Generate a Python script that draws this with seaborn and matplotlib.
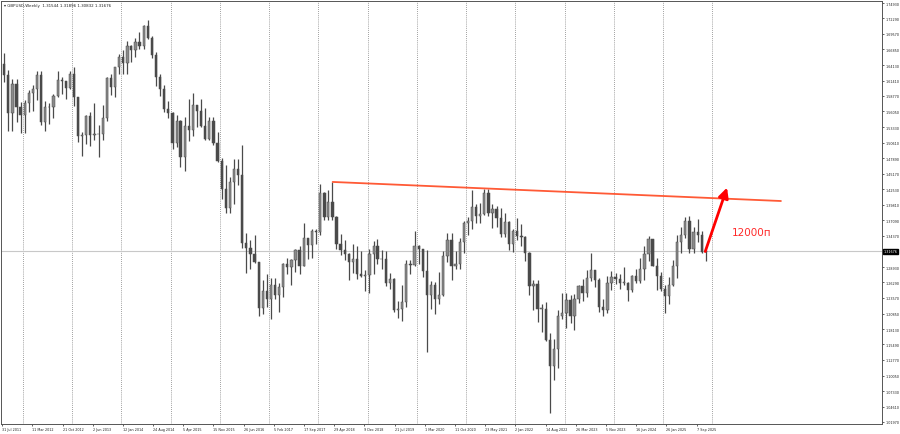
import pandas as pd
import numpy as np
import matplotlib
matplotlib.use("Agg")
import matplotlib.pyplot as plt
import matplotlib.dates as mdates
import matplotlib.transforms as mtransforms
import seaborn as sns

# monthly GBPUSD candles, Aug 2011 .. Nov 2025
start_month = "2011-08-01"
opens = [
    1.6430, 1.6243, 1.5585, 1.6078, 1.5690,
    1.5540, 1.5750, 1.5920, 1.5990, 1.6240, 1.5420, 1.5690, 1.5680, 1.5880, 1.6160, 1.6130, 1.6020,
    1.6250, 1.5860, 1.5170, 1.5190, 1.5530, 1.5190, 1.5210, 1.5210, 1.5490, 1.6190, 1.6030, 1.6370,
    1.6560, 1.6440, 1.6750, 1.6670, 1.6820, 1.6750, 1.7100, 1.6880, 1.6590, 1.6210, 1.5990, 1.5640,
    1.5580, 1.5060, 1.5440, 1.4820, 1.5350, 1.5280, 1.5710, 1.5610, 1.5350, 1.5130, 1.5430, 1.5050,
    1.4740, 1.4250, 1.3920, 1.4370, 1.4610, 1.4490, 1.3310, 1.3230, 1.3130, 1.2980, 1.2180, 1.2470,
    1.2340, 1.2580, 1.2410, 1.2550, 1.2950, 1.2890, 1.3020, 1.3200, 1.2920, 1.3395, 1.3285, 1.3525,
    1.3510, 1.4190, 1.3770, 1.4025, 1.3770, 1.3295, 1.3200, 1.3125, 1.2990, 1.3040, 1.2770, 1.2745,
    1.2755, 1.3115, 1.3260, 1.3030, 1.3035, 1.2625, 1.2695, 1.2150, 1.2160, 1.2290, 1.2945, 1.2930,
    1.3260, 1.3205, 1.2820, 1.2410, 1.2590, 1.2345, 1.2400, 1.3090, 1.3370, 1.2920, 1.2945, 1.3330,
    1.3670, 1.3705, 1.3935, 1.3785, 1.3820, 1.4180, 1.3830, 1.3900, 1.3750, 1.3475, 1.3680, 1.3300,
    1.3530, 1.3440, 1.3410, 1.3140, 1.2570, 1.2600, 1.2170, 1.2170, 1.1620, 1.1165, 1.1470, 1.2050,
    1.2100, 1.2320, 1.2050, 1.2340, 1.2570, 1.2440, 1.2700, 1.2840, 1.2670, 1.2200, 1.2150, 1.2620,
    1.2730, 1.2690, 1.2620, 1.2620, 1.2490, 1.2740, 1.2645, 1.2855, 1.3125, 1.3375, 1.2910, 1.2735,
    1.2515, 1.2390, 1.2575, 1.2915, 1.3330, 1.3460, 1.3705, 1.3210, 1.3500, 1.3445, 1.3150,
]
highs = [
    1.6617, 1.6332, 1.6166, 1.6166, 1.5777,
    1.5800, 1.5975, 1.6062, 1.6301, 1.6308, 1.5780, 1.5750, 1.5900, 1.6309, 1.6200, 1.6130, 1.6309,
    1.6381, 1.5860, 1.5250, 1.5540, 1.5600, 1.5752, 1.5360, 1.5716, 1.6200, 1.6260, 1.6380, 1.6604,
    1.6668, 1.6823, 1.6770, 1.6880, 1.6996, 1.7110, 1.7190, 1.6920, 1.6640, 1.6250, 1.6060, 1.5790,
    1.5590, 1.5550, 1.5450, 1.5500, 1.5815, 1.5930, 1.5720, 1.5820, 1.5660, 1.5510, 1.5510, 1.5240,
    1.4800, 1.4670, 1.4460, 1.4770, 1.4770, 1.5018, 1.3480, 1.3370, 1.3445, 1.2990, 1.2675, 1.2775,
    1.2706, 1.2706, 1.2615, 1.2960, 1.3048, 1.3030, 1.3210, 1.3270, 1.3657, 1.3395, 1.3550, 1.3550,
    1.4345, 1.4210, 1.4245, 1.4377, 1.3790, 1.3475, 1.3365, 1.3140, 1.3298, 1.3257, 1.3175, 1.2840,
    1.3215, 1.3350, 1.3380, 1.3195, 1.3176, 1.2785, 1.2710, 1.2310, 1.2580, 1.3013, 1.3015, 1.3515,
    1.3285, 1.3210, 1.3200, 1.2648, 1.2640, 1.2813, 1.3170, 1.3483, 1.3482, 1.3177, 1.3398, 1.3705,
    1.3760, 1.4240, 1.4000, 1.4010, 1.4250, 1.4250, 1.3985, 1.3960, 1.3915, 1.3835, 1.3700, 1.3550,
    1.3750, 1.3645, 1.3440, 1.3165, 1.2665, 1.2665, 1.2245, 1.2295, 1.1740, 1.1645, 1.2155, 1.2445,
    1.2447, 1.2400, 1.2425, 1.2585, 1.2680, 1.2848, 1.3142, 1.2850, 1.2700, 1.2340, 1.2733, 1.2828,
    1.2785, 1.2773, 1.2894, 1.2635, 1.2760, 1.2860, 1.3045, 1.3265, 1.3435, 1.3390, 1.3048, 1.2810,
    1.2575, 1.2715, 1.3015, 1.3445, 1.3593, 1.3770, 1.3790, 1.3595, 1.3725, 1.3530, 1.3190,
]
lows = [
    1.6111, 1.5272, 1.5270, 1.5421, 1.5234,
    1.5234, 1.5600, 1.5604, 1.5805, 1.5369, 1.5270, 1.5393, 1.5489, 1.5850, 1.5910, 1.5830, 1.6000,
    1.5701, 1.5080, 1.4831, 1.5030, 1.5010, 1.5110, 1.4813, 1.5100, 1.5430, 1.5895, 1.5855, 1.6250,
    1.6250, 1.6250, 1.6460, 1.6550, 1.6690, 1.6690, 1.6860, 1.6530, 1.6050, 1.5874, 1.5590, 1.5485,
    1.4952, 1.4990, 1.4633, 1.4565, 1.5090, 1.5170, 1.5330, 1.5330, 1.5110, 1.5110, 1.5025, 1.4730,
    1.4080, 1.3840, 1.3836, 1.4000, 1.4330, 1.3229, 1.2798, 1.2866, 1.2960, 1.2050, 1.2080, 1.2200,
    1.1986, 1.2345, 1.2110, 1.2365, 1.2770, 1.2590, 1.2810, 1.2774, 1.2910, 1.3027, 1.3060, 1.3300,
    1.3450, 1.3710, 1.3710, 1.3710, 1.3205, 1.3100, 1.3010, 1.2663, 1.2785, 1.2695, 1.2723, 1.2475,
    1.2435, 1.2773, 1.2945, 1.2865, 1.2560, 1.2505, 1.2120, 1.2015, 1.1958, 1.2195, 1.2770, 1.2905,
    1.2955, 1.2725, 1.1409, 1.2165, 1.2075, 1.2252, 1.2390, 1.2980, 1.2676, 1.2855, 1.2855, 1.3135,
    1.3450, 1.3565, 1.3670, 1.3670, 1.3800, 1.3785, 1.3570, 1.3600, 1.3410, 1.3410, 1.3195, 1.3160,
    1.3360, 1.3270, 1.3000, 1.2410, 1.2155, 1.1935, 1.1760, 1.1600, 1.0350, 1.0925, 1.1145, 1.1990,
    1.1840, 1.1915, 1.1802, 1.2275, 1.2308, 1.2370, 1.2660, 1.2550, 1.2110, 1.2037, 1.2095, 1.2500,
    1.2595, 1.2518, 1.2575, 1.2300, 1.2465, 1.2615, 1.2615, 1.2665, 1.3000, 1.2905, 1.2487, 1.2475,
    1.2100, 1.2250, 1.2570, 1.2708, 1.3140, 1.3400, 1.3140, 1.3140, 1.3325, 1.3145, 1.3008,
]
closes = [
    1.6243, 1.5585, 1.6078, 1.5690, 1.5540,
    1.5750, 1.5920, 1.5990, 1.6240, 1.5420, 1.5690, 1.5680, 1.5880, 1.6160, 1.6130, 1.6020, 1.6250,
    1.5860, 1.5170, 1.5190, 1.5530, 1.5190, 1.5210, 1.5210, 1.5490, 1.6190, 1.6030, 1.6370, 1.6560,
    1.6440, 1.6750, 1.6670, 1.6820, 1.6750, 1.7100, 1.6880, 1.6590, 1.6210, 1.5990, 1.5640, 1.5580,
    1.5060, 1.5440, 1.4820, 1.5350, 1.5280, 1.5710, 1.5610, 1.5350, 1.5130, 1.5430, 1.5050, 1.4740,
    1.4250, 1.3920, 1.4370, 1.4610, 1.4490, 1.3310, 1.3230, 1.3130, 1.2980, 1.2180, 1.2470, 1.2340,
    1.2580, 1.2410, 1.2550, 1.2950, 1.2890, 1.3020, 1.3200, 1.2920, 1.3395, 1.3285, 1.3525, 1.3510,
    1.4190, 1.3770, 1.4025, 1.3770, 1.3295, 1.3200, 1.3125, 1.2990, 1.3040, 1.2770, 1.2745, 1.2755,
    1.3115, 1.3260, 1.3030, 1.3035, 1.2625, 1.2695, 1.2150, 1.2160, 1.2290, 1.2945, 1.2930, 1.3260,
    1.3205, 1.2820, 1.2410, 1.2590, 1.2345, 1.2400, 1.3090, 1.3370, 1.2920, 1.2945, 1.3330, 1.3670,
    1.3705, 1.3935, 1.3785, 1.3820, 1.4180, 1.3830, 1.3900, 1.3750, 1.3475, 1.3680, 1.3300, 1.3530,
    1.3440, 1.3410, 1.3140, 1.2570, 1.2600, 1.2170, 1.2170, 1.1620, 1.1165, 1.1470, 1.2050, 1.2100,
    1.2320, 1.2050, 1.2340, 1.2570, 1.2440, 1.2700, 1.2840, 1.2670, 1.2200, 1.2150, 1.2620, 1.2730,
    1.2690, 1.2620, 1.2620, 1.2490, 1.2740, 1.2645, 1.2855, 1.3125, 1.3375, 1.2910, 1.2735, 1.2515,
    1.2390, 1.2575, 1.2915, 1.3330, 1.3460, 1.3705, 1.3210, 1.3500, 1.3445, 1.3150, 1.3168,
]

# price axis labels and date labels as shown by the terminal
price_ticks = [1.74930, 1.72290, 1.69570, 1.66850, 1.64130, 1.61410, 1.58770, 1.56050,
               1.53330, 1.50610, 1.47890, 1.45170, 1.42530, 1.39810, 1.37090, 1.34370,
               1.28930, 1.26290, 1.23570, 1.20850, 1.18130, 1.15490, 1.12770, 1.10050,
               1.07330, 1.04610, 1.01970]
date_ticks = ["2011-07-31", "2012-03-11", "2012-10-21", "2013-06-02", "2014-01-12",
              "2014-08-24", "2015-04-05", "2015-11-15", "2016-06-26", "2017-02-05",
              "2017-09-17", "2018-04-29", "2018-12-09", "2019-07-21", "2020-03-01",
              "2020-10-11", "2021-05-23", "2022-01-02", "2022-08-14", "2023-03-26",
              "2023-11-05", "2024-06-16", "2025-01-26", "2025-09-07"]
date_labels = ["31 Jul 2011", "11 Mar 2012", "21 Oct 2012", "2 Jun 2013", "12 Jan 2014",
               "24 Aug 2014", "5 Apr 2015", "15 Nov 2015", "26 Jun 2016", "5 Feb 2017",
               "17 Sep 2017", "29 Apr 2018", "9 Dec 2018", "21 Jul 2019", "1 Mar 2020",
               "11 Oct 2020", "23 May 2021", "2 Jan 2022", "14 Aug 2022", "26 Mar 2023",
               "5 Nov 2023", "16 Jun 2024", "26 Jan 2025", "7 Sep 2025"]
last_price = 1.31676
header = "GBPUSD,Weekly  1.31544 1.31896 1.30832 1.31676"

# resistance line and projected move
trend_dates = ["2018-04-17", "2027-05-25"]
trend_prices = [1.4377, 1.4045]
arrow_from = ("2025-11-03", 1.3120)
arrow_to = ("2026-04-27", 1.4324)
move_text = "12000п"

sns.set_style("white")
plt.rcParams["font.family"] = ["DejaVu Sans"]

df = pd.DataFrame({"open": opens, "high": highs, "low": lows, "close": closes})
df["date"] = pd.date_range(start_month, periods=len(df), freq="MS") + pd.Timedelta(days=14)
df["x"] = mdates.date2num(df["date"])
up = df["close"] >= df["open"]

fig = plt.figure(figsize=(9, 4.35), dpi=100)
ax = fig.add_axes([0.001, 1 - 425 / 435, 881 / 900, 423 / 435])

# yearly dotted separators
for yr in range(2012, 2027):
    ax.axvline(mdates.date2num(pd.Timestamp(f"{yr}-01-01")), color="#808080",
               lw=0.6, ls=(0, (1, 1.5)), zorder=0)

ax.axhline(last_price, color="#c8c8c8", lw=0.8, zorder=1)

ax.vlines(df["x"], df["low"], df["high"], color="#4a4a4a", lw=0.9, zorder=2)
body_w = 17
ax.bar(df.loc[up, "x"], (df.loc[up, "close"] - df.loc[up, "open"]).clip(lower=0.0008),
       bottom=df.loc[up, "open"], width=body_w, color="#8a8a8a", edgecolor="#4a4a4a",
       linewidth=0.35, zorder=3)
ax.bar(df.loc[~up, "x"], (df.loc[~up, "open"] - df.loc[~up, "close"]).clip(lower=0.0008),
       bottom=df.loc[~up, "close"], width=body_w, color="#4a4a4a", edgecolor="#4a4a4a",
       linewidth=0.35, zorder=3)

trend = pd.DataFrame({"x": mdates.date2num(pd.to_datetime(trend_dates)), "y": trend_prices})
sns.lineplot(data=trend, x="x", y="y", ax=ax, color="#ff5a36", lw=1.3, zorder=4)

ax.annotate("", xy=(mdates.date2num(pd.Timestamp(arrow_to[0])), arrow_to[1]),
            xytext=(mdates.date2num(pd.Timestamp(arrow_from[0])), arrow_from[1]),
            arrowprops=dict(arrowstyle="-|>,head_length=0.6,head_width=0.3",
                            color="#ff0000", lw=2.0), zorder=5)
ax.text(mdates.date2num(pd.Timestamp("2026-05-24")), 1.3505, move_text,
        color="#ff2a2a", fontsize=7.5, va="center", ha="left")

# axes limits that match the terminal window
x0 = mdates.date2num(pd.Timestamp("2011-07-22"))
ax.set_xlim(x0, x0 + 6535)
ax.set_ylim(1.0162, 1.7528)

ax.yaxis.tick_right()
ax.set_yticks(price_ticks)
ax.set_yticklabels([f"{p:.5f}" for p in price_ticks])
ax.set_xticks(mdates.date2num(pd.to_datetime(date_ticks)))
ax.set_xticklabels(date_labels, ha="left")
ax.tick_params(axis="both", labelsize=2.4, length=1.5, width=0.5, pad=0.8,
               colors="#222222", right=True, bottom=True, left=False)
ax.set_xlabel("")
ax.set_ylabel("")
for s in ax.spines.values():
    s.set_color("#555555")
    s.set_linewidth(0.7)

tr = mtransforms.blended_transform_factory(ax.transAxes, ax.transData)
ax.text(1.002, last_price, f"{last_price:.5f}", transform=tr, fontsize=2.4,
        color="white", va="center", ha="left",
        bbox=dict(boxstyle="square,pad=0.2", fc="black", ec="black"))

fig.text(0.004, 1 - 6 / 435, "\u25be " + header, fontsize=2.9, color="#222222",
         va="center", ha="left")

fig.savefig("out.png", dpi=100)
